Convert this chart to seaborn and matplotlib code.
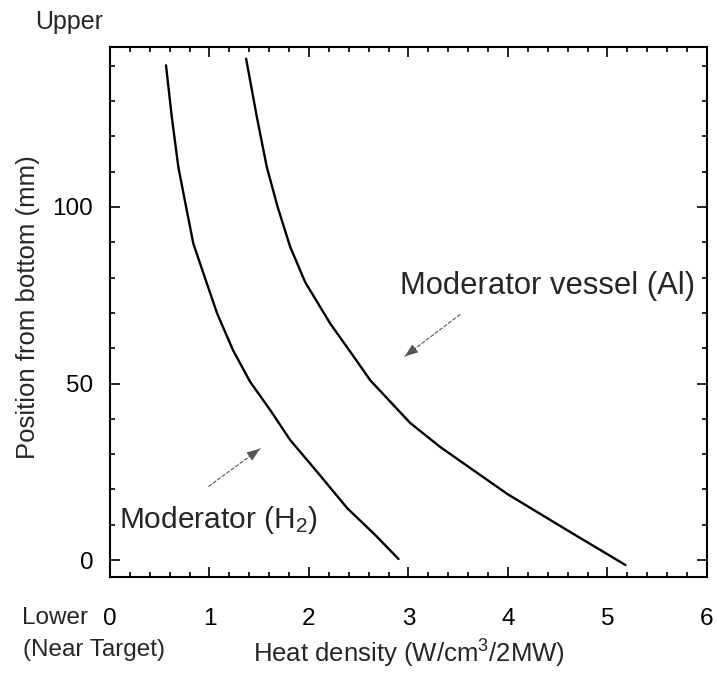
import pandas as pd
import matplotlib
matplotlib.use("Agg")
import matplotlib.pyplot as plt
import seaborn as sns
from matplotlib.ticker import MultipleLocator

# values
h2_heat = [0.563, 0.621, 0.687, 0.765, 0.838, 0.956, 1.076, 1.237, 1.408,
           1.610, 1.811, 2.093, 2.384, 2.666, 2.900]
h2_pos = [140.1, 125.5, 111.3, 100.0, 89.6, 79.8, 69.9, 59.4, 50.5,
          42.5, 34.0, 24.6, 14.7, 7.1, 0.3]

al_heat = [1.368, 1.476, 1.576, 1.685, 1.811, 1.962, 2.213, 2.475, 2.616,
           3.018, 3.320, 3.994, 4.628, 5.181]
al_pos = [142.0, 125.5, 111.3, 100.0, 88.7, 78.7, 67.0, 56.6, 50.9,
          38.8, 32.0, 18.7, 7.9, -1.4]

x_ticks = [0, 1, 2, 3, 4, 5, 6]
y_ticks = [0, 50, 100]

df = pd.concat([
    pd.DataFrame({"heat": h2_heat, "pos": h2_pos, "part": "Moderator (H2)"}),
    pd.DataFrame({"heat": al_heat, "pos": al_pos, "part": "Moderator vessel (Al)"}),
])

sns.set_style("ticks")
plt.rcParams["font.family"] = ["Liberation Sans", "DejaVu Sans"]
plt.rcParams["mathtext.fontset"] = "custom"
plt.rcParams["mathtext.rm"] = "Liberation Sans"
plt.rcParams["mathtext.it"] = "Liberation Sans"
plt.rcParams["lines.solid_joinstyle"] = "round"

fig = plt.figure(figsize=(7.17, 6.81), dpi=100)
ax = fig.add_axes([0.1534, 0.1527, 0.8326, 0.7783])

sns.lineplot(data=df, x="heat", y="pos", units="part", estimator=None,
             sort=False, color="black", linewidth=1.7, ax=ax)

ax.set_xlim(0, 6)
ax.set_ylim(-4.8, 145.3)
ax.set_xticks(x_ticks)
ax.set_yticks(y_ticks)
ax.xaxis.set_minor_locator(MultipleLocator(0.2))
ax.yaxis.set_minor_locator(MultipleLocator(10))
ax.tick_params(which="both", direction="in", top=True, right=True, width=1.2,
               labelsize=17.5, colors="black")
ax.tick_params(which="major", length=7.5)
ax.tick_params(which="minor", length=3.8)
ax.tick_params(axis="x", pad=22)
ax.tick_params(axis="y", pad=12)
for s in ax.spines.values():
    s.set_linewidth(1.5)
    s.set_color("black")

ax.set_xlabel("Heat density (W/cm$^3$/2MW)", fontsize=18.5, labelpad=6)
ax.set_ylabel("Position from bottom (mm)", fontsize=18.5)
ax.yaxis.set_label_coords(-0.118, 0.51)

ax.text(2.91, 77.5, "Moderator vessel (Al)", fontsize=22.3, va="center", ha="left")
ax.text(0.09, 11.3, "Moderator (H$_2$)", fontsize=21.5, va="center", ha="left")

# dashed leader lines with solid heads
for tail, tip in [((0.97, 20.4), (1.53, 32.0)), ((3.54, 70.0), (2.94, 57.2))]:
    ax.annotate("", xy=tip, xytext=tail,
                arrowprops=dict(arrowstyle="-", color="#555555", lw=0.8,
                                linestyle=(0, (3, 2))))
    near = (tip[0] + (tail[0] - tip[0]) * 0.25, tip[1] + (tail[1] - tip[1]) * 0.25)
    ax.annotate("", xy=tip, xytext=near,
                arrowprops=dict(arrowstyle="-|>,head_length=0.8,head_width=0.3",
                                color="#555555", lw=0.8))

fig.text(0.049, 0.968, "Upper", fontsize=18, va="center", ha="left")
fig.text(0.031, 0.0925, "Lower", fontsize=17.5, va="center", ha="left")
fig.text(0.032, 0.0455, "(Near Target)", fontsize=17.5, va="center", ha="left")

fig.savefig("out.png", dpi=100)
